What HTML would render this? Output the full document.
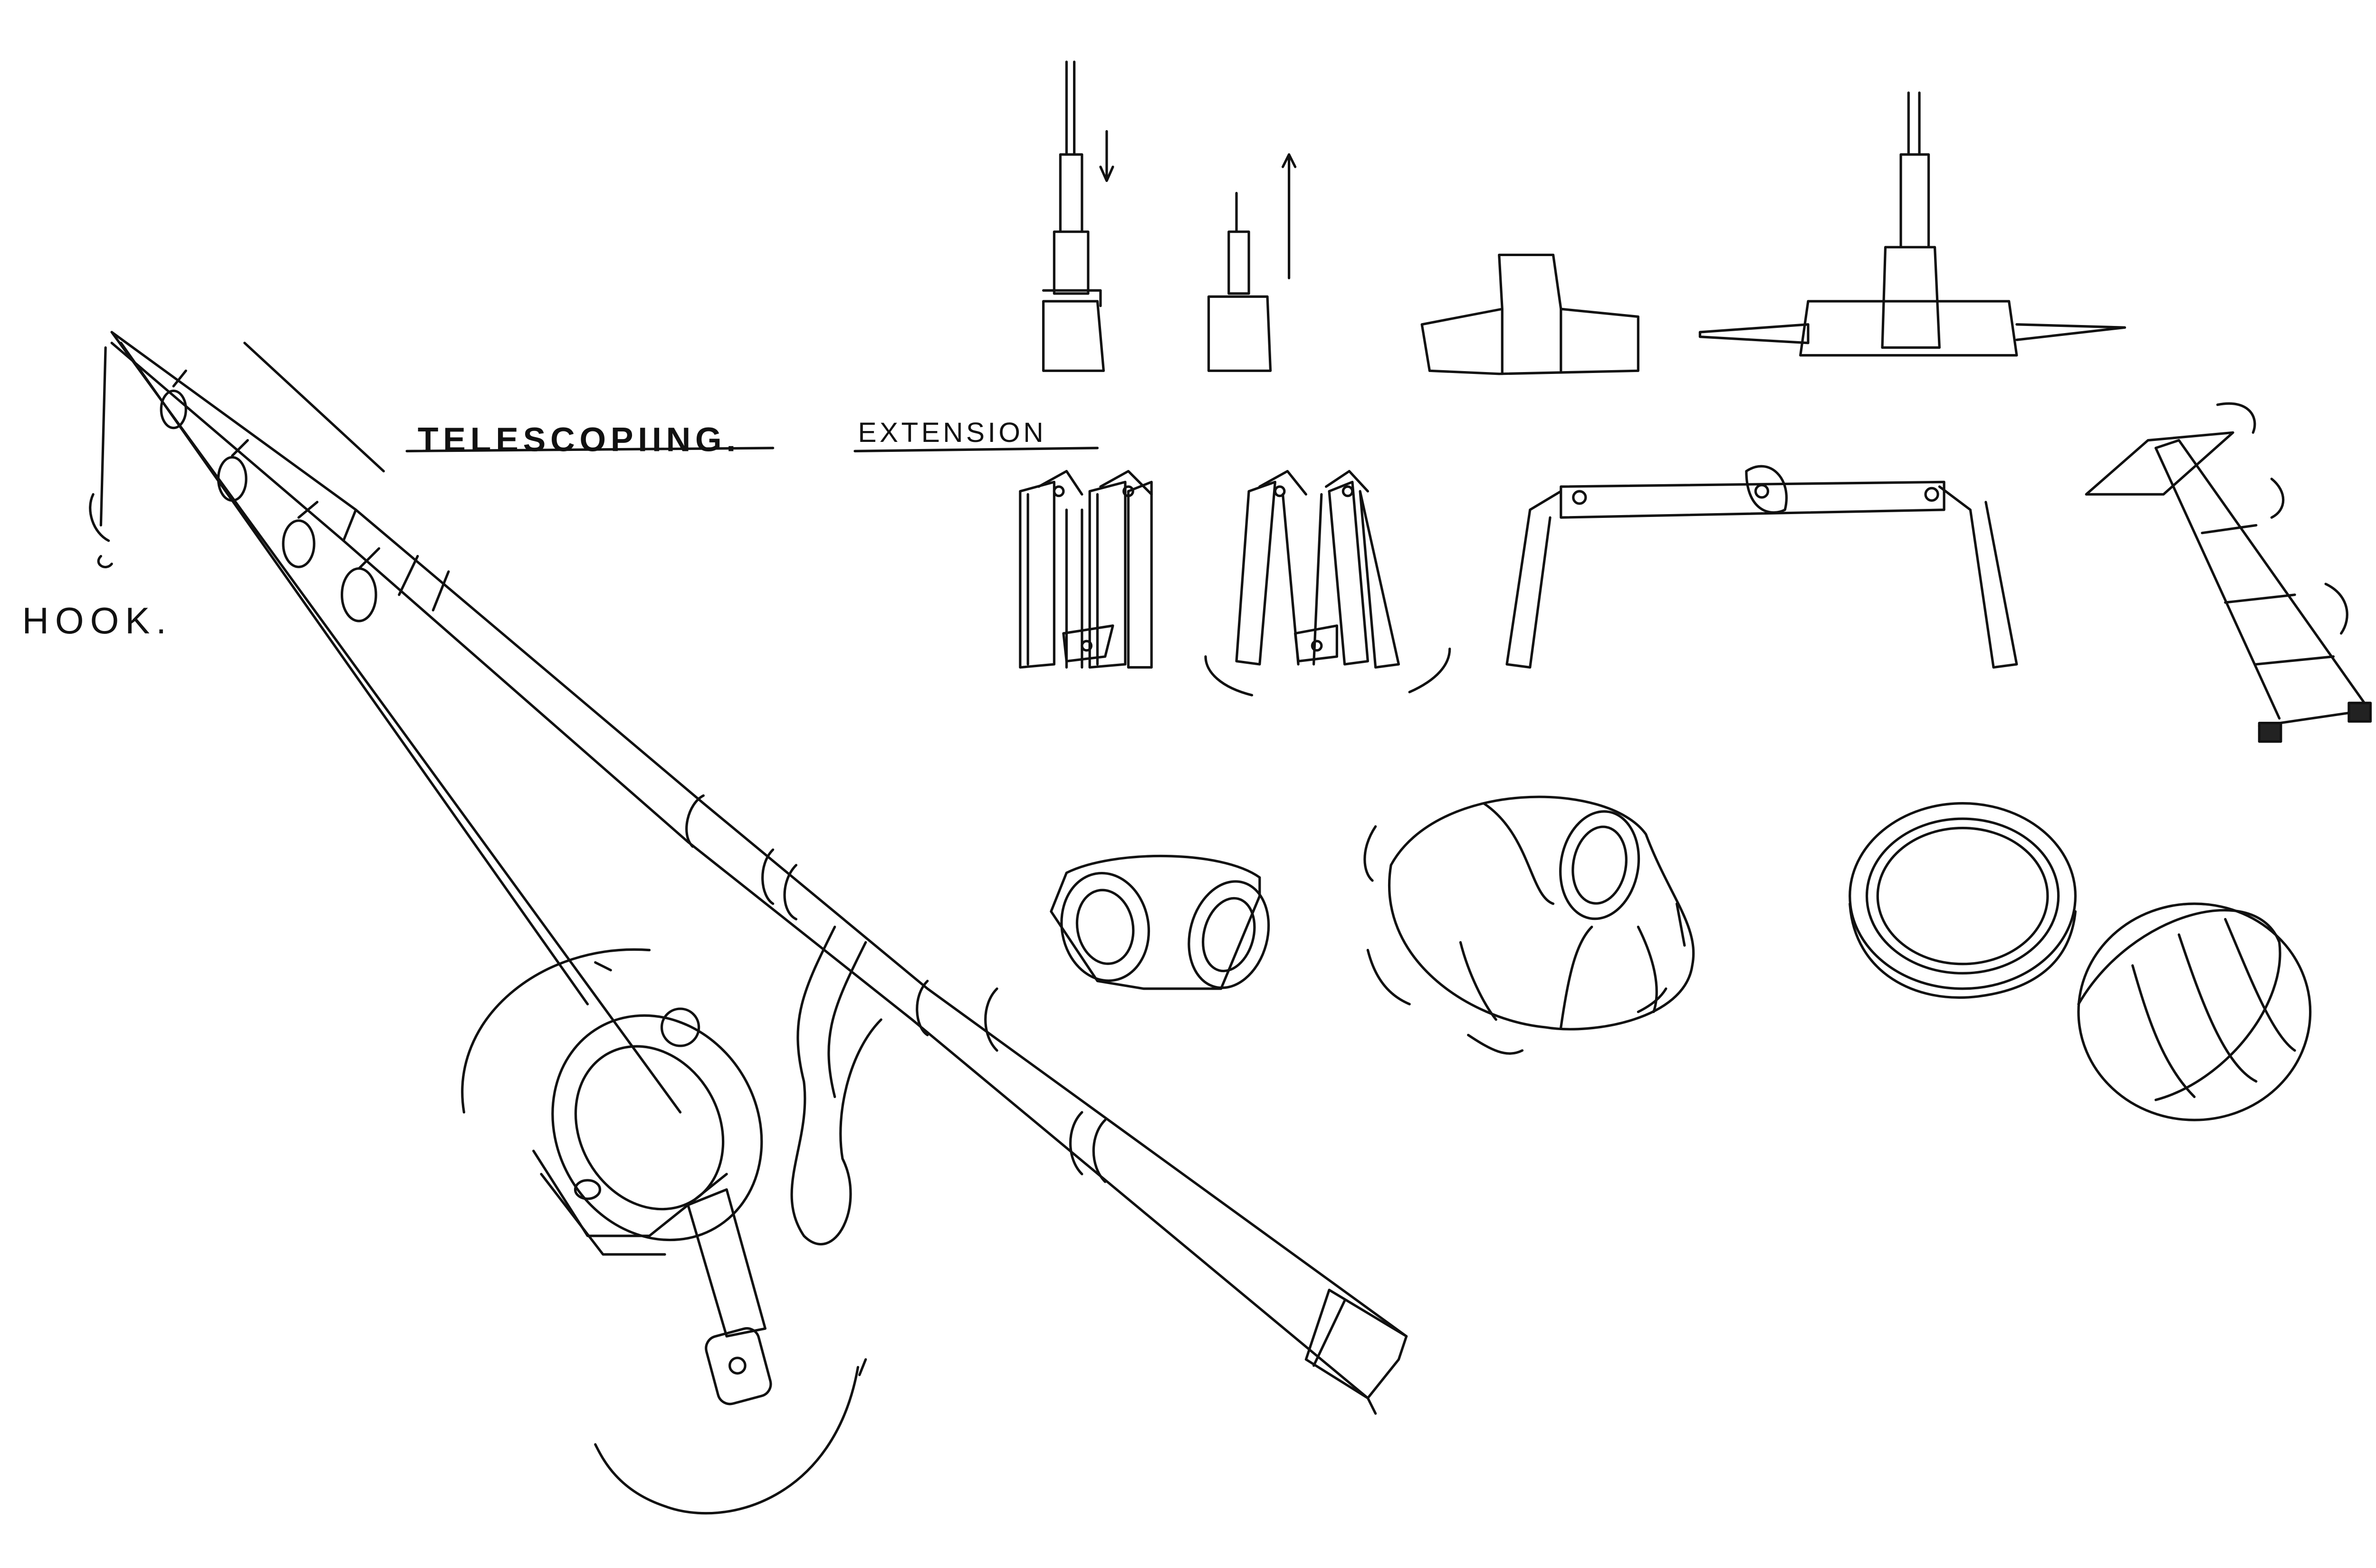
<!DOCTYPE html>
<html><head><meta charset="utf-8"><style>
html,body{margin:0;padding:0;background:#fff;}
svg{display:block;}
text{font-family:"Liberation Sans",sans-serif;fill:#111;}
</style></head><body>
<svg width="5100" height="3300" viewBox="0 0 1568 1015" xmlns="http://www.w3.org/2000/svg">
<g fill="none" stroke="#111" stroke-width="1.6" stroke-linecap="round" stroke-linejoin="round">
<!-- rod -->
<path d="M72,215 L230,330 L455,520 L600,640 L910,865"/>
<path d="M72,222 L222,350 L445,545 L590,660 L885,905"/>
<path d="M230,330 L222,350 M270,360 L258,385 M290,370 L280,395"/>
<path d="M455,515 C445,520 440,540 448,548 M500,550 C490,560 492,580 500,585 M515,560 C505,570 505,590 515,595"/>
<path d="M600,635 C590,645 592,665 600,670 M645,640 C635,650 635,670 645,680"/>
<path d="M700,720 C690,730 690,750 700,760 M715,725 C705,735 705,755 715,765"/>
<path d="M860,835 L910,865 L905,880 L885,905 L845,880 Z"/>
<path d="M870,842 L850,884"/>
<path d="M885,905 L890,915"/>
<!-- line -->
<path d="M72,215 L440,720 M78,222 L380,650"/>
<path d="M68,225 L65,340 M60,320 C55,330 60,345 70,350 M65,360 C60,365 68,370 72,365"/>
<!-- guides -->
<ellipse cx="112" cy="265" rx="8" ry="12"/>
<ellipse cx="150" cy="310" rx="9" ry="14"/>
<ellipse cx="193" cy="352" rx="10" ry="15"/>
<ellipse cx="232" cy="385" rx="11" ry="17"/>
<path d="M112,250 L120,240 M150,295 L160,285 M193,335 L205,325 M232,368 L245,355"/>
<path d="M158,222 L248,305"/>
<!-- reel seat / reel -->
<path d="M540,600 C520,640 510,660 520,700 C525,740 500,770 520,800 C540,820 560,780 545,750 C540,720 550,680 570,660"/>
<path d="M560,610 C540,650 530,670 540,710"/>
<ellipse cx="425" cy="730" rx="65" ry="75" transform="rotate(-30 425 730)"/>
<ellipse cx="420" cy="730" rx="45" ry="55" transform="rotate(-30 420 730)"/>
<ellipse cx="440" cy="665" rx="12" ry="12"/>
<path d="M345,745 L380,800 L420,800 L470,760"/>
<path d="M350,760 L390,812 L430,812"/>
<ellipse cx="380" cy="770" rx="8" ry="6"/>
<path d="M445,780 L470,865 L495,860 L470,770 Z"/>
<rect x="460" y="862" width="35" height="45" rx="8" transform="rotate(-15 477 884)"/>
<circle cx="477" cy="884" r="5"/>
<path d="M420,615 C350,610 290,660 300,720 M385,623 L395,628"/>
<path d="M555,885 C540,970 470,990 430,975 C400,965 390,945 385,935 M560,880 L556,890"/>
<!-- telescoping top -->
<path d="M690,40 L690,100 M695,40 L695,100 M686,100 L700,100 L700,150 L686,150 Z M682,150 L704,150 L704,190 L682,190 Z M675,195 L710,195 L714,240 L675,240 Z M675,188 L712,188 L712,198"/>
<path d="M716,85 L716,115 M712,108 L716,117 L720,108"/>
<path d="M800,125 L800,150 M795,150 L808,150 L808,190 L795,190 Z M782,192 L820,192 L822,240 L782,240 Z"/>
<path d="M834,100 L834,180 M830,108 L834,100 L838,108"/>
<path d="M970,165 L1005,165 L1010,200 L1060,205 L1060,240 L970,242 L925,240 L920,210 L972,200 Z M972,200 L972,242 M1010,200 L1010,240"/>
<path d="M1235,60 L1235,100 M1242,60 L1242,100 M1230,100 L1248,100 L1248,160 L1230,160 Z M1220,160 L1252,160 L1255,225 L1218,225 Z M1170,195 L1300,195 L1305,230 L1165,230 Z M1100,215 L1170,210 L1170,222 L1100,218 Z M1305,210 L1375,212 L1305,220"/>
<text x="270" y="292" font-size="22" font-weight="bold" letter-spacing="3" stroke="none">TELESCOPIING.</text>
<path d="M263,292 L500,290"/>
<text x="555" y="286" font-size="18" letter-spacing="2" stroke="none">EXTENSION</text>
<path d="M553,292 L710,290"/>
<text x="14" y="410" font-size="24" letter-spacing="4" stroke="none">HOOK.</text>
<!-- folding legs -->
<g>
<path d="M660,318 L682,312 L682,430 L660,432 Z M665,320 L665,430 M705,318 L728,312 L728,430 L705,432 Z M710,320 L710,430 M730,318 L745,312 L745,432 L730,432 Z M690,330 L690,432 M700,330 L700,432"/>
<path d="M672,315 L690,305 L700,320 M712,315 L730,305 L745,320 M688,410 L720,405 L715,425 L690,428 Z"/>
<circle cx="685" cy="318" r="3"/><circle cx="730" cy="318" r="3"/><circle cx="703" cy="418" r="3"/>
</g>
<g>
<path d="M808,318 L825,312 L815,430 L800,428 Z M860,318 L875,312 L885,428 L870,430 Z M830,320 L840,430 M855,320 L850,430 M880,318 L905,430 L890,432 Z M838,410 L865,405 L865,425 L840,428 Z"/>
<path d="M815,315 L833,305 L845,320 M858,315 L873,305 L885,318"/>
<circle cx="828" cy="318" r="3"/><circle cx="872" cy="318" r="3"/><circle cx="852" cy="418" r="3"/>
<path d="M810,450 C790,445 780,435 780,425 M912,448 C930,440 938,430 938,420"/>
</g>
<!-- bridge -->
<path d="M1010,315 L1258,312 L1258,330 L1010,335 Z M1010,318 L990,330 L975,430 L990,432 L1003,335 M1255,315 L1275,330 L1290,432 L1305,430 L1285,325"/>
<path d="M1130,305 C1145,295 1160,310 1155,330 C1145,335 1130,330 1130,305"/>
<circle cx="1022" cy="322" r="4"/><circle cx="1250" cy="320" r="4"/><circle cx="1140" cy="318" r="4"/>
<!-- ladder -->
<path d="M1350,320 L1390,285 L1445,280 L1400,320 Z M1395,290 L1475,465 M1410,285 L1530,455 M1395,290 L1410,285"/>
<path d="M1425,345 L1460,340 M1440,390 L1485,385 M1460,430 L1510,425 M1462,470 L1530,460"/>
<rect x="1462" y="468" width="14" height="12" fill="#222"/><rect x="1520" y="455" width="14" height="12" fill="#222"/>
<path d="M1435,262 C1455,258 1462,270 1458,280 M1470,310 C1480,318 1480,330 1470,335 M1505,378 C1520,385 1522,400 1515,410"/>
<!-- elbow -->
<path d="M690,565 C720,550 790,550 815,568 L815,580 L790,640 L740,640 L710,635 L680,590 Z"/>
<ellipse cx="715" cy="600" rx="28" ry="35" transform="rotate(-10 715 600)"/>
<ellipse cx="715" cy="600" rx="18" ry="24" transform="rotate(-10 715 600)"/>
<ellipse cx="795" cy="605" rx="25" ry="35" transform="rotate(15 795 605)"/>
<ellipse cx="795" cy="605" rx="16" ry="24" transform="rotate(15 795 605)"/>
<!-- torus -->
<path d="M900,560 C930,505 1040,505 1065,540 C1080,580 1100,600 1095,625 C1090,660 1030,670 1000,665 C950,660 890,620 900,560 Z"/>
<ellipse cx="1035" cy="560" rx="25" ry="35" transform="rotate(10 1035 560)"/>
<ellipse cx="1035" cy="560" rx="17" ry="25" transform="rotate(10 1035 560)"/>
<path d="M960,520 C990,540 990,580 1005,585 M945,610 C950,630 960,650 968,660 M1010,665 C1015,630 1020,610 1030,600 M1060,600 C1070,620 1075,640 1070,655"/>
<path d="M890,535 C880,550 882,565 888,570 M885,615 C890,635 900,645 912,650 M950,670 C965,680 975,685 985,680 M1060,655 C1070,650 1075,645 1078,640 M1085,585 L1090,612"/>
<!-- ring -->
<ellipse cx="1270" cy="580" rx="73" ry="60"/>
<ellipse cx="1270" cy="580" rx="62" ry="50"/>
<ellipse cx="1270" cy="580" rx="55" ry="44"/>
<path d="M1197,585 C1200,630 1240,650 1280,645 C1320,640 1340,620 1343,590"/>
<!-- sphere -->
<ellipse cx="1420" cy="655" rx="75" ry="70"/>
<path d="M1345,650 C1380,590 1460,570 1475,610 C1480,650 1440,700 1395,712"/>
<path d="M1380,625 C1390,660 1400,690 1420,710 M1410,605 C1425,650 1440,690 1460,700 M1440,595 C1455,630 1470,670 1485,680"/>
</g>
</svg>
</body></html>
